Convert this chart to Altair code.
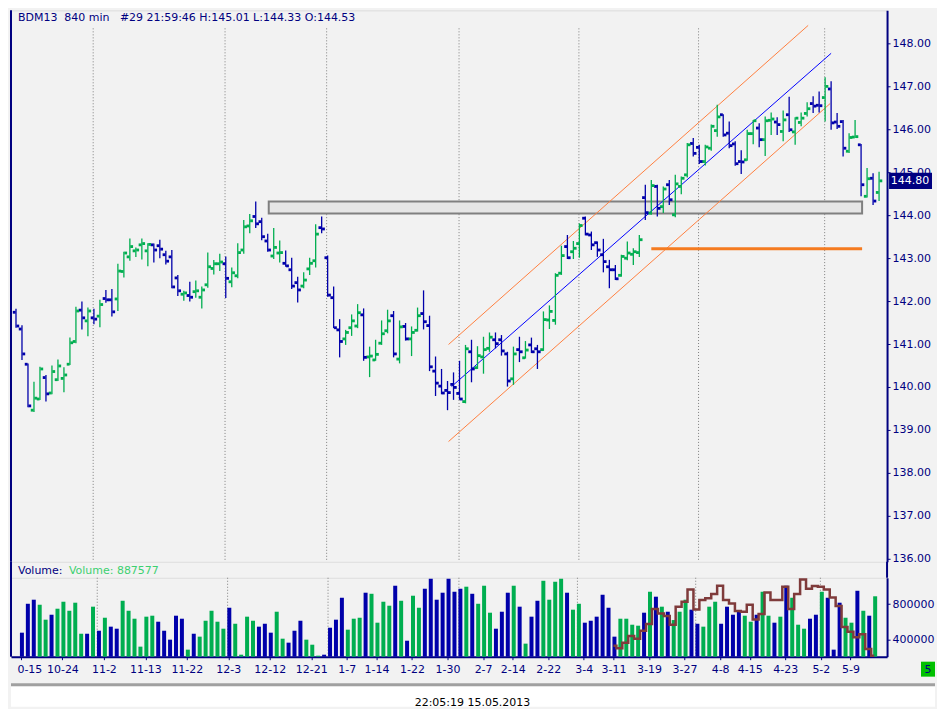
import altair as alt
import pandas as pd

# ---------------- data ----------------
opens = [141.74, 141.35, 140.53, 139.46, 139.72, 140.22, 139.86, 140.17, 140.20, 140.53,
         141.06, 141.79, 141.54, 141.61, 141.65, 142.06, 142.03, 142.05, 142.69, 143.03,
         143.17, 143.31, 143.17, 143.31, 143.29, 143.08, 143.03, 142.54, 142.16, 142.13,
         142.22, 142.09, 142.38, 142.76, 142.87, 142.87, 142.45, 142.59, 143.19, 143.75,
         143.97, 143.85, 143.40, 143.05, 143.12, 142.88, 142.73, 142.43, 142.35, 142.75,
         142.94, 143.71, 143.01, 142.08, 141.33, 141.12, 141.38, 141.42, 141.68, 140.70,
         140.63, 141.02, 141.31, 141.66, 140.65, 141.41, 141.12, 141.32, 141.71, 141.43,
         140.37, 140.02, 139.92, 140.06, 139.85, 139.66, 140.82, 140.45, 140.70, 140.90,
         141.10, 141.10, 140.77, 140.19, 140.87, 140.68, 140.98, 140.89, 140.87, 141.56,
         141.55, 142.65, 143.27, 143.15, 143.34, 143.93, 143.54, 143.36, 143.08, 142.80,
         142.73, 142.60, 143.00, 143.09, 143.13, 144.41, 144.05, 144.67, 144.20, 144.71,
         144.01, 144.67, 144.94, 145.67, 145.58, 145.25, 145.56, 145.97, 146.34, 145.91,
         145.66, 145.25, 145.29, 145.90, 146.03, 145.76, 146.21, 146.17, 145.95, 146.34,
         145.94, 146.16, 146.37, 146.60, 146.56, 146.74, 146.94, 146.17, 146.18, 145.49,
         145.82, 145.64, 144.44, 144.86, 144.53]
highs = [141.82, 141.44, 140.55, 140.12, 140.47, 140.28, 140.50, 140.64, 140.46, 141.15,
         141.87, 141.99, 141.85, 141.82, 142.03, 142.26, 142.28, 142.87, 143.15, 143.46,
         143.25, 143.46, 143.35, 143.34, 143.43, 143.17, 143.19, 142.61, 142.24, 142.45,
         142.48, 142.34, 143.13, 142.96, 143.10, 143.04, 142.78, 143.35, 143.89, 144.03,
         144.32, 143.94, 143.57, 143.70, 143.41, 143.18, 143.01, 142.57, 142.67, 143.01,
         143.79, 143.97, 143.06, 142.34, 141.58, 141.33, 141.69, 141.93, 141.83, 140.94,
         141.10, 141.55, 141.80, 141.77, 141.55, 141.49, 141.41, 141.85, 142.25, 141.66,
         140.71, 140.42, 140.14, 140.34, 140.61, 140.98, 141.10, 140.95, 141.17, 141.27,
         141.27, 141.21, 140.82, 140.94, 141.17, 141.07, 141.15, 140.98, 141.76, 141.90,
         142.65, 143.29, 143.54, 143.40, 143.81, 143.97, 143.62, 143.39, 143.45, 142.96,
         142.84, 143.08, 143.39, 143.23, 143.54, 144.71, 144.82, 144.71, 144.67, 144.82,
         144.94, 144.90, 145.68, 145.80, 145.64, 145.64, 146.11, 146.57, 146.35, 146.18,
         145.72, 145.51, 145.99, 146.22, 146.14, 146.30, 146.39, 146.28, 146.44, 146.76,
         146.28, 146.39, 146.63, 146.77, 146.88, 147.21, 147.12, 146.38, 146.22, 145.91,
         146.22, 145.66, 145.10, 144.98, 145.01]
lows = [141.38, 140.63, 139.53, 139.42, 139.70, 139.66, 139.83, 140.14, 139.88, 140.51,
        141.02, 141.34, 141.18, 141.46, 141.39, 141.96, 141.64, 141.77, 142.55, 142.94,
        143.03, 142.97, 142.81, 142.90, 143.00, 142.85, 142.30, 142.12, 142.01, 141.99,
        142.08, 141.83, 142.31, 142.62, 142.70, 142.07, 142.32, 142.53, 143.10, 143.58,
        143.70, 143.42, 143.15, 142.98, 142.90, 142.80, 142.28, 141.97, 142.30, 142.61,
        142.78, 143.58, 142.10, 141.37, 140.69, 140.98, 141.19, 141.37, 140.61, 140.23,
        140.61, 140.98, 141.25, 140.69, 140.55, 141.08, 140.72, 141.29, 141.34, 140.37,
        139.79, 139.83, 139.46, 139.70, 139.70, 139.62, 140.11, 140.42, 140.31, 140.82,
        140.90, 140.73, 140.01, 140.05, 140.58, 140.66, 140.79, 140.42, 140.84, 141.35,
        141.45, 142.61, 142.98, 142.98, 143.01, 143.53, 143.19, 143.03, 142.67, 142.30,
        142.49, 142.57, 142.95, 142.84, 143.03, 143.89, 144.01, 143.97, 144.05, 144.24,
        143.95, 144.49, 144.88, 145.37, 145.19, 145.16, 145.50, 145.83, 145.83, 145.56,
        145.15, 144.96, 145.27, 145.65, 145.58, 145.38, 145.87, 145.87, 145.72, 145.94,
        145.64, 146.07, 146.30, 146.38, 146.39, 146.18, 145.99, 146.01, 145.37, 145.45,
        145.80, 144.44, 144.41, 144.24, 144.33]
closes = [141.42, 140.77, 139.56, 139.74, 140.42, 139.84, 140.36, 140.49, 140.28, 141.03,
          141.77, 141.61, 141.77, 141.58, 141.92, 142.03, 141.75, 142.70, 143.12, 143.27,
          143.19, 143.34, 143.32, 143.19, 143.21, 142.93, 142.33, 142.24, 142.19, 142.09,
          142.24, 142.26, 142.80, 142.87, 142.91, 142.53, 142.66, 143.13, 143.73, 143.87,
          143.80, 143.50, 143.19, 143.25, 143.13, 142.82, 142.35, 142.26, 142.49, 142.88,
          143.56, 143.68, 142.14, 141.38, 141.06, 141.27, 141.54, 141.73, 140.69, 140.72,
          140.76, 141.24, 141.54, 140.77, 141.40, 141.12, 141.27, 141.66, 141.52, 140.47,
          140.09, 139.86, 139.87, 139.99, 139.72, 140.89, 140.42, 140.73, 140.87, 141.16,
          141.01, 140.84, 140.14, 140.77, 140.82, 140.86, 140.82, 140.82, 141.57, 141.76,
          142.60, 143.06, 143.01, 143.23, 143.76, 143.56, 143.31, 143.19, 142.92, 142.73,
          142.52, 143.04, 143.12, 143.15, 143.43, 144.06, 144.69, 144.16, 144.61, 144.36,
          144.73, 144.86, 145.64, 145.44, 145.25, 145.59, 146.07, 146.29, 145.87, 145.62,
          145.20, 145.24, 145.90, 146.20, 145.76, 146.20, 146.24, 146.11, 146.22, 145.99,
          146.26, 146.26, 146.48, 146.54, 146.55, 147.00, 146.15, 146.07, 145.56, 145.81,
          145.83, 144.71, 144.85, 144.33, 144.80]
volumes = [476000, 803000, 849000, 792000, 623000, 679000, 747000, 826000, 724000, 815000,
           464000, 464000, 770000, 498000, 645000, 544000, 521000, 837000, 724000, 634000,
           318000, 657000, 668000, 600000, 498000, 397000, 668000, 634000, 284000, 464000,
           431000, 611000, 724000, 600000, 521000, 758000, 577000, 227000, 657000, 611000,
           544000, 577000, 476000, 713000, 408000, 363000, 498000, 611000, 397000, 340000,
           216000, 227000, 532000, 623000, 871000, 510000, 634000, 645000, 928000, 916000,
           589000, 826000, 781000, 1007000, 837000, 385000, 894000, 758000, 973000, 1086000,
           849000, 928000, 1086000, 939000, 973000, 996000, 916000, 803000, 1007000, 702000,
           521000, 713000, 928000, 1007000, 770000, 352000, 657000, 837000, 1063000, 849000,
           1052000, 1086000, 928000, 736000, 803000, 589000, 611000, 657000, 905000, 758000,
           431000, 634000, 634000, 566000, 555000, 702000, 939000, 883000, 770000, 713000,
           619000, 713000, 849000, 736000, 577000, 544000, 770000, 826000, 577000, 770000,
           679000, 724000, 668000, 600000, 679000, 939000, 668000, 589000, 657000, 1007000,
           871000, 566000, 521000, 634000, 679000, 939000, 871000, 284000, 815000, 645000,
           589000, 950000, 724000, 668000, 887577]
# volume moving average (step line), starting at bar index 100
ma_start = 100
ma_values = [329000, 299000, 363000, 438000, 408000, 498000, 574000, 743000, 694000, 664000,
             566000, 770000, 826000, 965000, 739000, 845000, 864000, 913000, 1007000, 845000,
             807000, 721000, 713000, 792000, 626000, 687000, 931000, 845000, 845000, 996000,
             743000, 913000, 1078000, 973000, 1003000, 996000, 965000, 875000, 777000, 540000,
             487000, 423000, 457000, 291000, 216000]

tick_idx = [0, 7, 14, 21, 28, 35, 42, 49, 55, 60, 66, 72, 78, 83, 89, 95, 100, 106,
            112, 118, 123, 129, 135, 140]
tick_labels = ["0-15", "10-24", "11-2", "11-13", "11-22", "12-3", "12-12", "12-21",
               "1-7", "1-14", "1-22", "1-30", "2-7", "2-14", "2-22", "3-4", "3-11",
               "3-19", "3-27", "4-8", "4-15", "4-23", "5-2", "5-9"]
month_marks = [12.88, 34.88, 51.83, 73.92, 93.92, 113.88, 134.92]
price_ticks = [136, 137, 138, 139, 140, 141, 142, 143, 144, 145, 146, 147, 148]
vol_ticks = [400000, 800000]

# drawn studies (bar index, price)
chan_names = ["mid", "mid", "upper", "upper", "lower", "lower"]
chan_x = [72.67, 136.0, 72.17, 132.17, 72.17, 135.83]
chan_y = [140.01, 147.77, 140.99, 148.42, 138.73, 146.60]
zone_x = [42.17, 141.17]
zone_y = [144.04, 144.32]
level_x = [106.0, 141.17]
level_y = 143.22

header = "BDM13\u00a0\u00a0840 min\u00a0\u00a0\u00a0#29 21:59:46 H:145.01 L:144.33 O:144.53"
vol_header = "Volume:"
vol_value = "Volume: 887577"
stamp = "22:05:19 15.05.2013"

# ---------------- styling ----------------
NAVY = "#000080"
P_UP, P_DN = "#00AE50", "#0000AA"
V_UP, V_DN = "#20D468", "#0E3D86"
FONT = "DejaVu Sans"
FS = 11

W = 877
H_PRICE = 552
H_VOL = 79
X_DOM = [-0.833, 145.333]
P_DOM = [135.93, 148.77]
V_DOM = [204500, 1097100]

n = len(closes)
df = pd.DataFrame({"i": list(range(n)), "open": opens, "high": highs, "low": lows,
                   "close": closes, "volume": volumes})
df["dir"] = ["up" if c > o else "down" for o, c in zip(opens, closes)]
df["vbase"] = V_DOM[0]

ma_df = pd.DataFrame({"i": list(range(ma_start, ma_start + len(ma_values))), "ma": ma_values})
mon_df = pd.DataFrame({"m": month_marks})
chan_df = pd.DataFrame({"name": chan_names, "x": chan_x, "y": chan_y})
zone_df = pd.DataFrame({"x1": [zone_x[0]], "x2": [zone_x[1]], "y1": [zone_y[0]], "y2": [zone_y[1]]})
level_df = pd.DataFrame({"x1": [level_x[0]], "x2": [level_x[1]], "y": [level_y]})
last = closes[-1]
last_df = pd.DataFrame({"p": [last], "top": [last + 0.19], "bot": [last - 0.19],
                        "label": [f"{last:.2f}"]})
one = pd.DataFrame({"k": [0]})

xs = alt.Scale(domain=X_DOM, nice=False, zero=False)
ps = alt.Scale(domain=P_DOM, nice=False, zero=False)
vs = alt.Scale(domain=V_DOM, nice=False, zero=False)

price_axis = alt.Axis(orient="right", values=price_ticks, format=".2f", title=None, grid=False,
                      domainColor=NAVY, domainWidth=2, tickColor=NAVY, tickSize=3,
                      labelColor=NAVY, labelFontSize=FS, labelPadding=2, labelFont=FONT)
vol_axis = alt.Axis(orient="right", values=vol_ticks, format="d", title=None, grid=False,
                    domainColor=NAVY, domainWidth=2, tickColor=NAVY, tickSize=3,
                    labelColor=NAVY, labelFontSize=FS, labelPadding=2, labelFont=FONT)
vals_js = "[" + ",".join(str(v) for v in tick_idx) + "]"
labs_js = "[" + ",".join("'" + s + "'" for s in tick_labels) + "]"
x_axis = alt.Axis(values=tick_idx, labelExpr=f"{labs_js}[indexof({vals_js}, datum.value)]",
                  title=None, grid=False, domainColor=NAVY, domainWidth=2, tickColor=NAVY,
                  tickSize=3, labelColor=NAVY, labelFontSize=FS, labelPadding=4, labelFont=FONT,
                  labelAlign={"condition": {"test": "datum.value <= 0", "value": "left"},
                              "value": "center"},
                  labelOffset={"condition": {"test": "datum.value <= 0", "value": -4},
                               "value": 0})


def PX(f):
    return alt.X(f, type="quantitative", scale=xs, axis=None)


def PY(f):
    return alt.Y(f, type="quantitative", scale=ps, axis=price_axis)


def VX(f):
    return alt.X(f, type="quantitative", scale=xs, axis=x_axis)


def VY(f):
    return alt.Y(f, type="quantitative", scale=vs, axis=vol_axis)


pcol = alt.Color("dir:N", scale=alt.Scale(domain=["up", "down"], range=[P_UP, P_DN]), legend=None)
vcol = alt.Color("dir:N", scale=alt.Scale(domain=["up", "down"], range=[V_UP, V_DN]), legend=None)

# ---------------- price panel ----------------
mon_p = alt.Chart(mon_df).mark_rule(color="#808080", strokeDash=[1, 2], strokeWidth=1).encode(
    x=PX("m"), y=alt.value(18), y2=alt.value(H_PRICE))
zone = alt.Chart(zone_df).mark_rect(fill="#E6E6E6", stroke="#808080", strokeWidth=2).encode(
    x=PX("x1"), x2="x2:Q", y=PY("y1"), y2="y2:Q")
chan_mid = alt.Chart(chan_df).transform_filter("datum.name == 'mid'").mark_line(
    color="#0000FF", strokeWidth=1).encode(x=PX("x"), y=PY("y"), detail="name:N")
chan_out = alt.Chart(chan_df).transform_filter("datum.name != 'mid'").mark_line(
    color="#FF7F3F", strokeWidth=1).encode(x=PX("x"), y=PY("y"), detail="name:N")
hl = alt.Chart(df).mark_rule(strokeWidth=1.3).encode(x=PX("i"), y=PY("low"), y2="high:Q", color=pcol)
op = alt.Chart(df).mark_square(size=8, xOffset=-1.8, opacity=1).encode(x=PX("i"), y=PY("open"), color=pcol)
cl = alt.Chart(df).mark_square(size=8, xOffset=1.8, opacity=1).encode(x=PX("i"), y=PY("close"), color=pcol)
level = alt.Chart(level_df).mark_rule(color="#F57B20", strokeWidth=3).encode(
    x=PX("x1"), x2="x2:Q", y=PY("y"))
box = alt.Chart(last_df).mark_rect(color=NAVY).encode(
    x=alt.value(W + 2), x2=alt.value(W + 45), y=PY("top"), y2="bot:Q")
box_t = alt.Chart(last_df).mark_text(color="white", fontSize=FS, font=FONT, align="center",
                                     baseline="middle").encode(
    x=alt.value(W + 23), y=PY("p"), text="label:N")
head = alt.Chart(one).mark_text(color=NAVY, fontSize=FS, font=FONT, align="left",
                                baseline="middle").encode(
    x=alt.value(7), y=alt.value(8), text=alt.value(header))
lframe_p = alt.Chart(one).mark_rule(color=NAVY, strokeWidth=2).encode(
    x=alt.value(0), y=alt.value(0), y2=alt.value(H_PRICE))

price = alt.layer(mon_p, zone, chan_mid, chan_out, hl, op, cl, level, box, box_t, head,
                  lframe_p).properties(width=W, height=H_PRICE)

# ---------------- volume panel ----------------
mon_v = alt.Chart(mon_df).mark_rule(color="#808080", strokeDash=[1, 2], strokeWidth=1).encode(
    x=VX("m"), y=alt.value(0), y2=alt.value(H_VOL))
vbars = alt.Chart(df).mark_bar(size=4, xOffset=1).encode(
    x=VX("i"), y=VY("volume"), y2="vbase:Q", color=vcol)
ma = alt.Chart(ma_df).mark_line(interpolate="step", color="#7F3B3B", strokeWidth=2.5).encode(
    x=VX("i"), y=VY("ma"))
vt1 = alt.Chart(one).mark_text(color=NAVY, fontSize=FS, font=FONT, align="left",
                               baseline="middle").encode(
    x=alt.value(7), y=alt.value(-7), text=alt.value(vol_header))
vt2 = alt.Chart(one).mark_text(color="#3CD070", fontSize=FS, font=FONT, align="left",
                               baseline="middle").encode(
    x=alt.value(58), y=alt.value(-7), text=alt.value(vol_value))
lframe_v = alt.Chart(one).mark_rule(color=NAVY, strokeWidth=2).encode(
    x=alt.value(0), y=alt.value(-16), y2=alt.value(H_VOL))
rframe_v = alt.Chart(one).mark_rule(color=NAVY, strokeWidth=2).encode(
    x=alt.value(W), y=alt.value(-16), y2=alt.value(0))
badge = alt.Chart(one).mark_rect(color="#00C000").encode(
    x=alt.value(911), x2=alt.value(925), y=alt.value(84), y2=alt.value(99))
badge_t = alt.Chart(one).mark_text(color=NAVY, fontSize=FS, font=FONT, align="center",
                                   baseline="middle").encode(
    x=alt.value(918), y=alt.value(92), text=alt.value("5"))
bevel = alt.Chart(one).mark_rule(color="#A0A0A0", strokeWidth=3).encode(
    x=alt.value(0), x2=alt.value(925), y=alt.value(107))
white = alt.Chart(one).mark_rect(color="white").encode(
    x=alt.value(0), x2=alt.value(925), y=alt.value(109), y2=alt.value(129))
stamp_t = alt.Chart(one).mark_text(color="black", fontSize=FS, font=FONT, align="center",
                                   baseline="middle").encode(
    x=alt.value(462), y=alt.value(125), text=alt.value(stamp))

volume = alt.layer(mon_v, vbars, ma, vt1, vt2, lframe_v, rframe_v, badge, badge_t, bevel,
                   white, stamp_t).properties(width=W, height=H_VOL)

chart = alt.vconcat(price, volume, spacing=16, bounds="flush").properties(
    padding={"left": 1, "top": 0, "right": 0, "bottom": 0},
    background="#F2F2F2",
).configure_view(strokeOpacity=0).configure(font=FONT)

chart.save("out.html", embed_options={"renderer": "svg", "actions": False})
